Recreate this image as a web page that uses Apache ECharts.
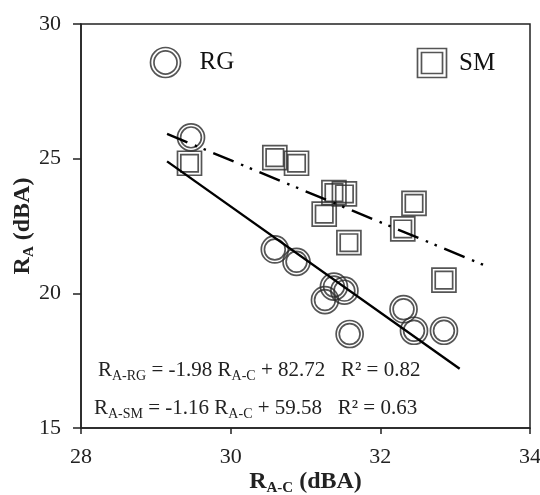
<!DOCTYPE html>
<html>
<head>
<meta charset="utf-8">
<script src="https://cdn.jsdelivr.net/npm/echarts@6/dist/echarts.min.js"></script>
<style>html,body{margin:0;padding:0;background:#fff}#c{width:540px;height:495px}</style>
</head>
<body>
<div id="c"></div>
<script>
// Data
var rgX = [29.47, 30.59, 30.88, 31.38, 31.52, 31.26, 31.59, 32.31, 32.45, 32.85];
var rgY = [25.79, 21.63, 21.17, 20.25, 20.10, 19.75, 18.49, 19.41, 18.61, 18.61];
var smX = [29.45, 30.59, 30.88, 31.38, 31.52, 31.25, 31.58, 32.45, 32.30, 32.85];
var smY = [24.83, 25.04, 24.83, 23.74, 23.69, 22.94, 21.88, 23.34, 22.39, 20.49];
var rgFitX = [29.15, 33.06];
var rgFitY = [24.90, 17.20];
var smFitX = [29.15, 33.47];
var smFitY = [25.92, 20.95];
var xTicks = [28, 30, 32, 34];
var yTicks = [15, 20, 25, 30];
var seriesNames = ['RG', 'SM'];

function pairs(xs, ys) { return xs.map(function (x, i) { return [x, ys[i]]; }); }

var FONT = '"Liberation Serif", "DejaVu Serif", serif';
var ringPath = 'path://M0,13 A13,13 0 1,1 26,13 A13,13 0 1,1 0,13 Z M3,13 A10,10 0 1,1 23,13 A10,10 0 1,1 3,13 Z';
var boxPath = 'path://M0,0 L24,0 L24,24 L0,24 Z M3.3,3.3 L20.7,3.3 L20.7,20.7 L3.3,20.7 Z';

var chart = echarts.init(document.getElementById('c'));
var mk = { color: 'none', borderColor: '#2a2a2a', borderWidth: 1.7 };

chart.setOption({
  animation: false,
  backgroundColor: '#fff',
  grid: { left: 81, right: 10, top: 24, bottom: 67, containLabel: false, outerBoundsMode: 'none',
    show: true, borderColor: '#222', borderWidth: 1.5, backgroundColor: 'transparent' },
  legend: [
    { data: [{ name: seriesNames[0], itemStyle: mk }], left: 143, top: 40, itemWidth: 32, itemHeight: 30,
      textStyle: { fontFamily: FONT, fontSize: 25, color: '#111', padding: [0, 0, 0, 13] } },
    { data: [{ name: seriesNames[1], itemStyle: mk }], left: 410, top: 41, itemWidth: 32, itemHeight: 29,
      textStyle: { fontFamily: FONT, fontSize: 25, color: '#111', padding: [0, 0, 0, 6] } }
  ],
  xAxis: {
    type: 'value', min: xTicks[0], max: xTicks[xTicks.length - 1], interval: 2,
    axisLine: { lineStyle: { color: '#222', width: 1.5 } },
    axisTick: { inside: false, length: 6, lineStyle: { color: '#222', width: 1.5 } },
    splitLine: { show: false },
    axisLabel: { fontFamily: FONT, fontSize: 22, color: '#222', margin: 18 },
    name: '{b|R}{s|A-C}{b| (dBA)}', nameLocation: 'middle', nameGap: 39, nameMoveOverlap: false,
    nameTextStyle: { rich: {
      b: { fontFamily: FONT, fontSize: 24, fontWeight: 'bold', color: '#222' },
      s: { fontFamily: FONT, fontSize: 15, fontWeight: 'bold', color: '#222', padding: [14, 0, 0, 0] }
    } }
  },
  yAxis: {
    type: 'value', min: yTicks[0], max: yTicks[yTicks.length - 1], interval: 5,
    axisLine: { lineStyle: { color: '#222', width: 1.5 } },
    axisTick: { inside: false, length: 8, lineStyle: { color: '#222', width: 1.5 } },
    splitLine: { show: false },
    axisLabel: { fontFamily: FONT, fontSize: 22, color: '#222', margin: 20 },
    name: '{b|R}{s|A}{b| (dBA)}', nameLocation: 'middle', nameGap: 44, nameRotate: 90, nameMoveOverlap: false,
    nameTextStyle: { rich: {
      b: { fontFamily: FONT, fontSize: 24, fontWeight: 'bold', color: '#222' },
      s: { fontFamily: FONT, fontSize: 15, fontWeight: 'bold', color: '#222', padding: [14, 0, 0, 0] }
    } }
  },
  graphic: [
    { type: 'text', left: 98, top: 360, style: {
      text: '{n|R}{s|A-RG}{n| = -1.98 R}{s|A-C}{n| + 82.72   R² = 0.82}',
      rich: {
        n: { fontFamily: FONT, fontSize: 21, fill: '#222' },
        s: { fontFamily: FONT, fontSize: 14, fill: '#222', padding: [12, 0, 0, 0] }
      } } },
    { type: 'text', left: 94, top: 398, style: {
      text: '{n|R}{s|A-SM}{n| = -1.16 R}{s|A-C}{n| + 59.58   R² = 0.63}',
      rich: {
        n: { fontFamily: FONT, fontSize: 21, fill: '#222' },
        s: { fontFamily: FONT, fontSize: 14, fill: '#222', padding: [12, 0, 0, 0] }
      } } }
  ],
  series: [
    { name: seriesNames[0], type: 'scatter', data: pairs(rgX, rgY), symbol: ringPath, symbolSize: 27,
      itemStyle: mk, z: 3 },
    { name: seriesNames[1], type: 'scatter', data: pairs(smX, smY), symbol: boxPath, symbolSize: 24,
      itemStyle: mk, z: 3 },
    { name: 'RG fit', type: 'line', data: pairs(rgFitX, rgFitY), symbol: 'none', silent: true,
      lineStyle: { color: '#000', width: 2.4 }, z: 4 },
    { name: 'SM fit', type: 'line', data: pairs(smFitX, smFitY), symbol: 'none', silent: true,
      lineStyle: { color: '#000', width: 2.4, type: [22, 8, 2.5, 7, 2.5, 8], cap: 'butt' }, z: 4 }
  ]
});
</script>
</body>
</html>
